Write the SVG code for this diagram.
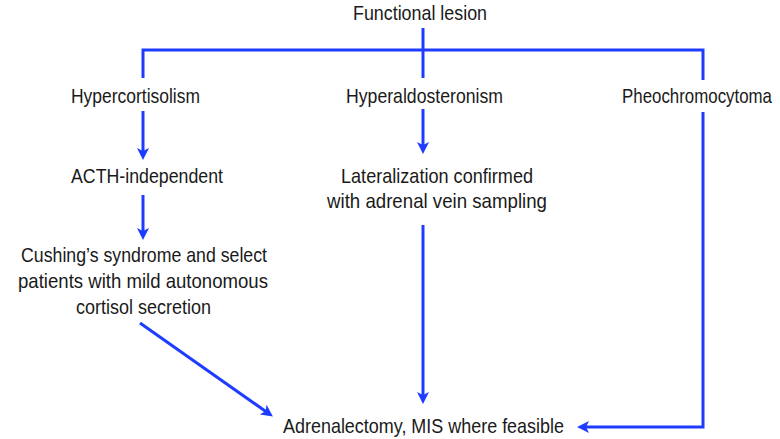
<svg xmlns="http://www.w3.org/2000/svg" width="780" height="439" viewBox="0 0 780 439">
<defs>
<style>
.t{font-family:"Liberation Sans",Arial,sans-serif;font-size:21px;fill:#1a1a1a;text-anchor:middle}
.c{stroke:#1e3cff;stroke-width:3;fill:none}
</style>
<marker id="ah" viewBox="0 0 12 12" markerWidth="12" markerHeight="12" refX="6" refY="6" orient="auto" markerUnits="userSpaceOnUse">
<path d="M0,0 L12,6 L0,12 L3,6 z" fill="#1e3cff"/>
</marker>
</defs>
<rect width="780" height="439" fill="#ffffff"/>
<g id="connectors">
<path class="c" d="M423,28 V78"/>
<path class="c" d="M143,78 V50 H703 V80"/>
<path class="c" d="M143,111 V154" marker-end="url(#ah)"/>
<path class="c" d="M423,109 V148" marker-end="url(#ah)"/>
<path class="c" d="M143,195 V234" marker-end="url(#ah)"/>
<path class="c" d="M423,225 V398" marker-end="url(#ah)"/>
<path class="c" d="M140,323 L268,413" marker-end="url(#ah)"/>
<path class="c" d="M703,112 V427 H583" marker-end="url(#ah)"/>
</g>
<g id="functional-lesion"><text class="t" x="420" y="20" textLength="134" lengthAdjust="spacingAndGlyphs">Functional lesion</text></g>
<g id="hypercortisolism"><text class="t" x="135.5" y="103" textLength="129" lengthAdjust="spacingAndGlyphs">Hypercortisolism</text></g>
<g id="hyperaldosteronism"><text class="t" x="424.5" y="103" textLength="157" lengthAdjust="spacingAndGlyphs">Hyperaldosteronism</text></g>
<g id="pheochromocytoma"><text class="t" x="697" y="103" textLength="150" lengthAdjust="spacingAndGlyphs">Pheochromocytoma</text></g>
<g id="acth-independent"><text class="t" x="147" y="183" textLength="152" lengthAdjust="spacingAndGlyphs">ACTH-independent</text></g>
<g id="lateralization">
<text class="t" x="437" y="183" textLength="192" lengthAdjust="spacingAndGlyphs">Lateralization confirmed</text>
<text class="t" x="437" y="208" textLength="220" lengthAdjust="spacingAndGlyphs">with adrenal vein sampling</text>
</g>
<g id="cushing">
<text class="t" x="144" y="262" textLength="246" lengthAdjust="spacingAndGlyphs">Cushing’s syndrome and select</text>
<text class="t" x="143" y="288" textLength="250" lengthAdjust="spacingAndGlyphs">patients with mild autonomous</text>
<text class="t" x="143.5" y="314" textLength="135" lengthAdjust="spacingAndGlyphs">cortisol secretion</text>
</g>
<g id="adrenalectomy"><text class="t" x="423.5" y="433" textLength="281" lengthAdjust="spacingAndGlyphs">Adrenalectomy, MIS where feasible</text></g>
</svg>
